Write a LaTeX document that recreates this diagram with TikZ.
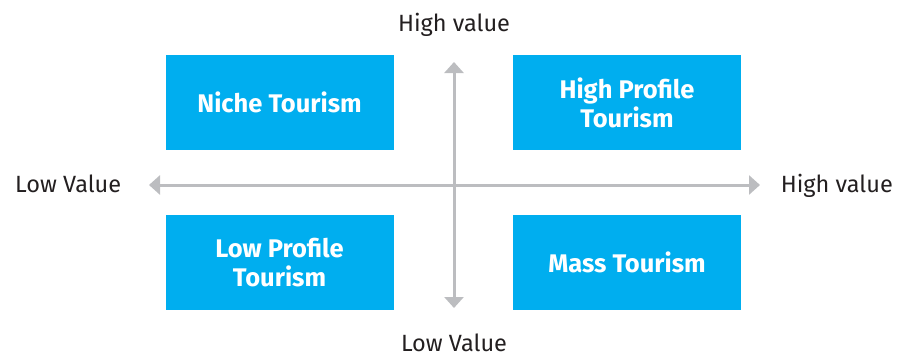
\documentclass[tikz,border=0pt]{standalone}
\usepackage{fontspec}
\setmainfont{Fira Sans}
\usetikzlibrary{arrows.meta}
\definecolor{qblue}{HTML}{00AEEF}
\definecolor{qgray}{HTML}{BCBDC0}
\definecolor{qtext}{HTML}{231F20}
\begin{document}
\begin{tikzpicture}[x=1pt,y=-1pt,
  quad/.style={fill=qblue, draw=none, minimum width=228pt, minimum height=95pt, inner sep=0pt,
    text=white, font=\fontsize{25.5}{29}\selectfont\bfseries, align=center},
  lab/.style={text=qtext, font=\fontsize{23.5}{26}\selectfont, inner sep=0pt, anchor=base},
  axis/.style={draw=qgray, line width=3pt, -{Triangle[width=19pt,length=11pt]}}]
\useasboundingbox (0,0) rectangle (903,356);
\node[quad] (niche) at (279.5,102.5) {Niche Tourism};
\node[quad] (high) at (627,102.5) {High Profile\\Tourism};
\node[quad] (low) at (279.5,262.5) {Low Profile\\Tourism};
\node[quad] (mass) at (627,262.5) {Mass Tourism};
\coordinate (top) at (454,62);
\coordinate (bot) at (454,308);
\coordinate (left) at (149,185);
\coordinate (right) at (760,185);
\coordinate (center) at (454,185);
\draw[axis] (center) -- (top);
\draw[axis] (center) -- (bot);
\draw[axis] (center) -- (left);
\draw[axis] (center) -- (right);
\node[lab] (ltop) at (454,31) {High value};
\node[lab] (lbot) at (454,351) {Low Value};
\node[lab, anchor=base west] (lleft) at (15,192) {Low Value};
\node[lab, anchor=base east] (lright) at (893,192) {High value};
\end{tikzpicture}
\end{document}
